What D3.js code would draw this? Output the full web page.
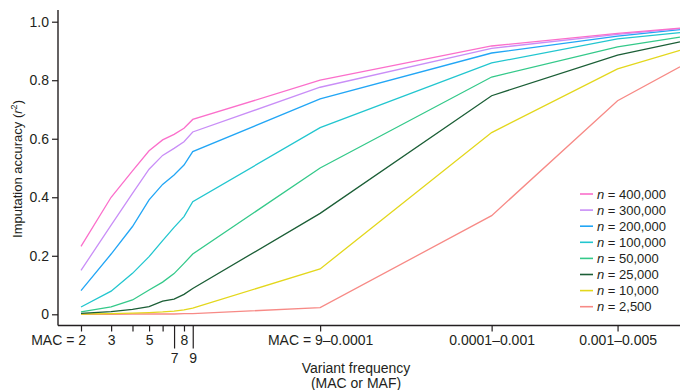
<!DOCTYPE html>
<html><head><meta charset="utf-8">
<script src="https://cdn.jsdelivr.net/npm/d3@7"></script>
<style>
body{margin:0;background:#fff;}
text{font-family:"Liberation Sans",Arial,Helvetica,sans-serif;fill:#231f20;}
</style></head>
<body><svg id="c" width="680" height="390"></svg>
<script>
// x positions: representative MAC values on a log scale (bins placed by representative MAC)
const xValues = [2,3,4,5,6,7,8,9,50,503,2740,6350];
const tickLabels = ["MAC = 2","3","","5","","7","8","9","MAC = 9\u20130.0001","0.0001\u20130.001","0.001\u20130.005"];
const longTicks = ["7","9"];
const seriesNames = ["400,000","300,000","200,000","100,000","50,000","25,000","10,000","2,500"];
const seriesColors = ["#fb6fcb","#c98ef7","#22a6f5","#22c6cf","#34c98a","#1b5e36","#e3d71c","#f78a86"];
const n400k = [0.232,0.40,0.49,0.559,0.596,0.615,0.636,0.666,0.800,0.917,0.960,0.978];
const n300k = [0.150,0.305,0.413,0.496,0.543,0.567,0.590,0.623,0.776,0.909,0.957,0.976];
const n200k = [0.081,0.206,0.300,0.391,0.444,0.476,0.510,0.556,0.736,0.893,0.951,0.973];
const n100k = [0.025,0.079,0.140,0.197,0.252,0.297,0.334,0.385,0.638,0.859,0.941,0.963];
const n50k  = [0.008,0.025,0.049,0.083,0.110,0.139,0.174,0.206,0.500,0.811,0.914,0.947];
const n25k  = [0.003,0.009,0.017,0.026,0.045,0.052,0.068,0.088,0.345,0.747,0.886,0.931];
const n10k  = [0.001,0.002,0.004,0.006,0.008,0.011,0.015,0.021,0.155,0.621,0.839,0.902];
const n2500 = [0.000,0.000,0.001,0.001,0.001,0.001,0.002,0.002,0.023,0.337,0.730,0.846];
const seriesValues = [n400k,n300k,n200k,n100k,n50k,n25k,n10k,n2500];
const yTicks = [0,0.2,0.4,0.6,0.8,1.0];

const svg = d3.select("#c");
const axisX = 58, axisY = 325.5;
const x = d3.scaleLog().domain([2,6350]).range([81,680]);
const y = d3.scaleLinear().domain([0,1]).range([314.3,21.7]);

// y axis
const ya = svg.append("g").attr("transform",`translate(${axisX},0)`)
  .call(d3.axisLeft(y).tickValues(yTicks).tickSize(6).tickPadding(3)
    .tickFormat(d=> d===0 ? "0" : d3.format(".1f")(d)));
ya.select(".domain").remove();
ya.append("line").attr("x1",0).attr("x2",0).attr("y1",10).attr("y2",axisY).attr("stroke","#231f20").attr("stroke-width",1.4);
ya.selectAll(".tick line").attr("stroke","#231f20").attr("stroke-width",1.2);
ya.selectAll(".tick text").attr("font-size",14).attr("fill","#231f20").attr("font-family","Liberation Sans, Arial, sans-serif");

// x axis
const tickVals = xValues.slice(0, tickLabels.length);
const xa = svg.append("g").attr("transform",`translate(0,${axisY})`)
  .call(d3.axisBottom(x).tickValues(tickVals).tickSize(6).tickFormat(""));
xa.select(".domain").remove();
xa.append("line").attr("x1",axisX).attr("x2",680).attr("y1",0).attr("y2",0).attr("stroke","#231f20").attr("stroke-width",1.4);
xa.selectAll(".tick line").attr("stroke","#231f20").attr("stroke-width",1.2)
  .attr("y2",(d,i)=> longTicks.includes(tickLabels[i]) ? 23 : 6);
xa.selectAll(".tick").each(function(d,i){
  const lab = tickLabels[i];
  if(!lab) return;
  const g = d3.select(this);
  const isLong = longTicks.includes(lab);
  const t = g.append("text").attr("font-size",14).attr("fill","#231f20")
    .attr("y", isLong ? 37 : 19).text(lab);
  if(lab==="MAC = 2"){ t.attr("text-anchor","end").attr("x",4.5); }
  else { t.attr("text-anchor","middle").attr("x",0); }
});

// axis titles
svg.append("text").attr("x",356).attr("y",373).attr("text-anchor","middle").attr("font-size",14).text("Variant frequency");
svg.append("text").attr("x",356).attr("y",388).attr("text-anchor","middle").attr("font-size",14).text("(MAC or MAF)");
const yt = svg.append("text").attr("transform","translate(22,169) rotate(-90)").attr("text-anchor","middle").attr("font-size",13);
yt.append("tspan").text("Imputation accuracy (");
yt.append("tspan").attr("font-style","italic").text("r");
yt.append("tspan").attr("font-size",9).attr("dy",-5).text("2");
yt.append("tspan").attr("dy",5).text(")");

// lines (draw lowest first so top series on top)
const line = d3.line().x((d,i)=>x(xValues[i])).y(d=>y(d));
for(let s=seriesValues.length-1;s>=0;s--){
  svg.append("path").datum(seriesValues[s]).attr("d",line)
    .attr("fill","none").attr("stroke",seriesColors[s]).attr("stroke-width",1.3);
}

// legend
const lg = svg.append("g");
seriesNames.forEach((nm,i)=>{
  const yy = 194 + i*16.1;
  lg.append("line").attr("x1",580).attr("x2",593).attr("y1",yy).attr("y2",yy)
    .attr("stroke",seriesColors[i]).attr("stroke-width",1.6);
  const t = lg.append("text").attr("x",597).attr("y",yy+4.5).attr("font-size",13);
  t.append("tspan").attr("font-style","italic").text("n");
  t.append("tspan").text(" = "+nm);
});
</script></body></html>
